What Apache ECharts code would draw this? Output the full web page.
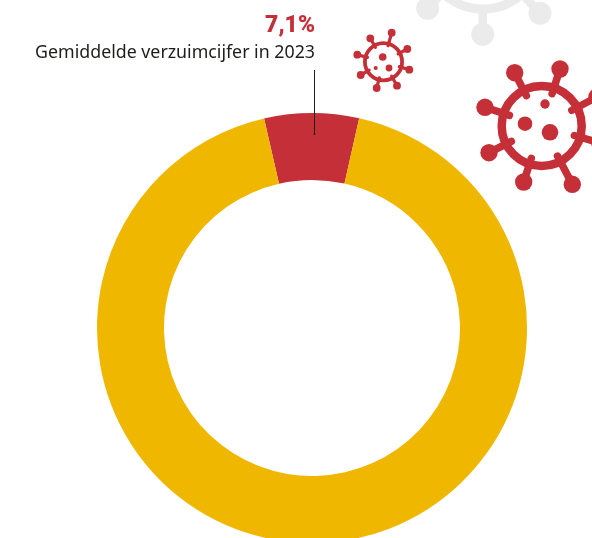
<!DOCTYPE html>
<html><head><meta charset="utf-8">
<style>html,body{margin:0;padding:0;background:#fff}#c{width:592px;height:538px}</style>
<script src="https://cdn.jsdelivr.net/npm/echarts@6/dist/echarts.min.js"></script>
</head><body><div id="c"></div>
<script>
const sliceNames = ['Verzuim', 'Overig'];
const sliceValues = [7.1, 92.9];
const sliceColors = ['#c52f38', '#efb700'];
const valueLabel = '7,1%';
const captionLabel = 'Gemiddelde verzuimcijfer in 2023';

function virus(v){
  const out=[];
  out.push({type:'circle',shape:{cx:v.cx,cy:v.cy,r:v.r},style:{fill:'none',stroke:v.color,lineWidth:v.ring}});
  v.balls.forEach(b=>{
    const dx=b[0]-v.cx,dy=b[1]-v.cy,d=Math.hypot(dx,dy),k=(v.r-v.inset)/d;
    out.push({type:'line',shape:{x1:v.cx+dx*k,y1:v.cy+dy*k,x2:b[0],y2:b[1]},style:{stroke:v.color,lineWidth:v.spike,lineCap:'round'}});
    out.push({type:'circle',shape:{cx:b[0],cy:b[1],r:v.ball},style:{fill:v.color}});
  });
  v.dots.forEach(d=>out.push({type:'circle',shape:{cx:d[0],cy:d[1],r:d[2]},style:{fill:v.color}}));
  return out;
}
const viruses=[
 {cx:483,cy:-49,r:58,ring:9,inset:0,spike:8.5,ball:11.5,color:'#ebebeb',balls:[[427.7,8.3],[482.7,34.3],[540,13.3]],dots:[]},
 {cx:383.5,cy:61.7,r:18.6,ring:3.8,inset:2,spike:3.2,ball:3.9,color:'#c52f38',
  balls:[[370.3,38.3],[391.7,32.7],[407.3,49],[409.3,69.7],[397,85.7],[376.7,88],[360.7,75],[357.3,54.7]],
  dots:[[382.7,57,3.8],[389,68,3.4],[375.7,68,2.1]]},
 {cx:541.7,cy:126,r:40,ring:8.5,inset:6,spike:7.5,ball:8.7,color:'#c52f38',
  balls:[[514.7,72.7],[560,69],[485,107.3],[489,152.7],[523.7,182],[572.3,184.3],[597,97],[600,143]],
  dots:[[545,104,4.7],[525,123.7,7.3],[550,132.3,8.3]]}
];
const graphics=[];
viruses.forEach(v=>graphics.push(...virus(v)));
graphics.push({type:'line',z:10,shape:{x1:314.5,y1:70,x2:314.5,y2:134},style:{stroke:'#1d1d1b',lineWidth:1}});
graphics.push({type:'circle',z:10,shape:{cx:314.5,cy:134,r:1},style:{fill:'#1d1d1b'}});
graphics.push({type:'text',z:10,style:{x:315,y:38,text:valueLabel,textAlign:'right',textVerticalAlign:'bottom',fill:'#c52f38',font:'900 23px Roboto, sans-serif'}});
graphics.push({type:'text',z:10,style:{x:315,y:62,text:captionLabel,textAlign:'right',textVerticalAlign:'bottom',fill:'#1d1d1b',font:'17.8px "Noto Sans", sans-serif'}});

const chart=echarts.init(document.getElementById('c'),null,{renderer:'canvas'});
chart.setOption({
  animation:false,
  backgroundColor:'#fff',
  graphic:graphics,
  series:[{
    type:'pie',
    center:[312,328],
    radius:[148,215],
    startAngle:90+sliceValues[0]/100*180+0.1,
    silent:true,
    label:{show:false},
    labelLine:{show:false},
    data:sliceNames.map((n,i)=>({name:n,value:sliceValues[i],itemStyle:{color:sliceColors[i]}}))
  }]
});
</script></body></html>
